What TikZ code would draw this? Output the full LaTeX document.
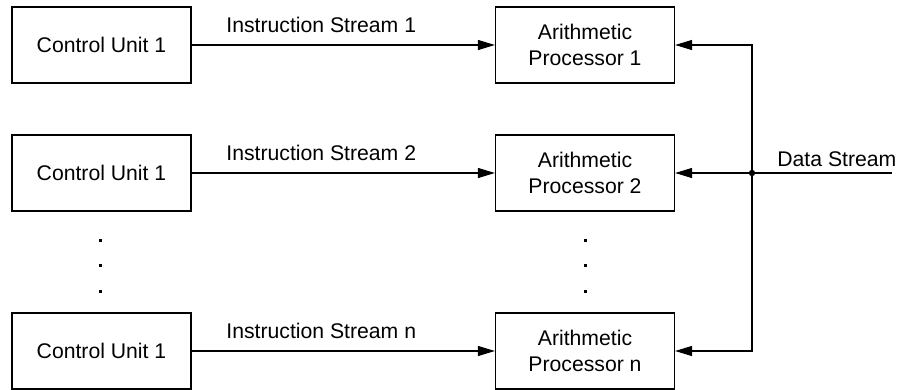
\documentclass[tikz,border=0pt]{standalone}
\usepackage{fontspec}
\setmainfont{Liberation Sans}
\usetikzlibrary{arrows.meta}
\begin{document}
\begin{tikzpicture}[x=0.5pt,y=-0.5pt,
  every node/.style={font=\fontsize{10.6}{13}\selectfont},
  unitbox/.style={draw,line width=0.6pt,minimum width=89.5pt,minimum height=38pt,inner sep=0pt,align=center},
  lbl/.style={inner sep=0pt,anchor=base west},
  conn/.style={line width=0.6pt},
  arr/.style={conn,-{Triangle[length=8.5pt,width=5pt]}},
  dotmark/.style={fill=black}]
\useasboundingbox (0,0) rectangle (902,390);
% control units
\node[unitbox] (cu1) at (101.5,45) {Control Unit 1};
\node[unitbox] (cu2) at (101.5,173) {Control Unit 1};
\node[unitbox] (cu3) at (101.5,351) {Control Unit 1};
% arithmetic processors
\node[unitbox] (ap1) at (585,45) {Arithmetic\\Processor 1};
\node[unitbox] (ap2) at (585,173) {Arithmetic\\Processor 2};
\node[unitbox] (ap3) at (585,351) {Arithmetic\\Processor n};
% instruction streams
\draw[arr] (cu1) -- (ap1);
\draw[arr] (cu2) -- (ap2);
\draw[arr] (cu3) -- (ap3);
\node[lbl] (is1) at (226,33) {Instruction Stream 1};
\node[lbl] (is2) at (226,161) {Instruction Stream 2};
\node[lbl] (is3) at (226,339) {Instruction Stream n};
% data stream
\coordinate (junc) at (752,173);
\coordinate (dend) at (892,173);
\draw[conn] (dend) -- (junc);
\draw[arr] (junc) -- (ap2);
\draw[arr] (junc) |- (ap1);
\draw[arr] (junc) |- (ap3);
\fill (junc) circle (1.6pt);
\node[lbl] (ds) at (777,167) {Data Stream};
% ellipsis dots
\foreach \yy in {241,266,292}{
  \fill[dotmark] (98.5,\yy-1.5) rectangle ++(3,3);
  \fill[dotmark] (583.5,\yy-1.5) rectangle ++(3,3);
}
\end{tikzpicture}
\end{document}
